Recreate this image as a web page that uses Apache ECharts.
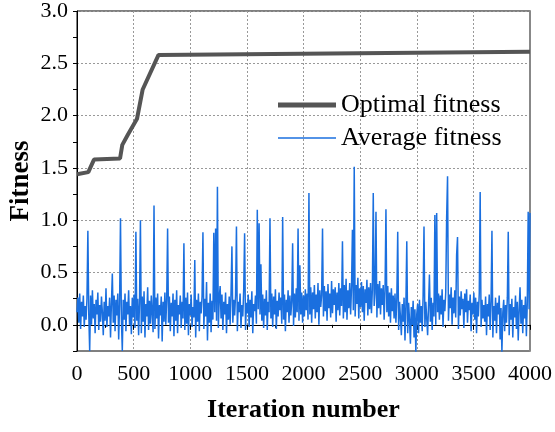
<!DOCTYPE html>
<html>
<head>
<meta charset="utf-8">
<script src="https://cdn.jsdelivr.net/npm/echarts@6/dist/echarts.min.js"></script>
<style>html,body{margin:0;padding:0;background:#fff}#main{width:555px;height:432px}</style>
</head>
<body>
<div id="main"></div>
<script>
// optimal fitness: [iteration, value] breakpoints
const optIter = [0, 100, 150, 380, 400, 450, 530, 580, 720, 4000];
const optValue = [1.44, 1.46, 1.58, 1.59, 1.72, 1.82, 1.97, 2.25, 2.58, 2.61];

// average fitness sampled every 8 iterations (read by eye, spikes placed where seen)
const avgStep = 8;
const avgValue = [
  // 0 - 392
  0.12, 0.26, 0.02, 0.30, -0.04, 0.22, 0.08, 0.28, -0.02, 0.18,
  0.05, 0.25, 0.90, 0.10, -0.25, 0.28, 0.00, 0.33, 0.06, 0.20,
  -0.08, 0.24, 0.10, 0.31, -0.05, 0.19, 0.03, 0.27, 0.12, -0.10,
  0.22, 0.04, 0.35, -0.02, 0.18, 0.08, 0.26, -0.12, 0.21, 0.49,
  0.02, 0.28, -0.06, 0.24, 0.09, 0.30, -0.14, 0.20, 1.02, 0.06,
  // 400 - 792
  -0.25, 0.24, 0.05, 0.30, -0.06, 0.22, 0.10, 0.33, 0.00, 0.18,
  -0.09, 0.26, 0.07, 0.29, -0.03, 0.89, 0.04, 0.25, -0.10, 0.21,
  1.00, -0.08, 0.27, 0.03, 0.32, -0.12, 0.20, 0.08, 0.36, -0.05,
  0.23, 0.01, 0.28, 0.10, -0.07, 1.14, -0.04, 0.26, 0.06, 0.30,
  -0.13, 0.19, 0.09, 0.27, -0.16, 0.22, 0.03, 0.31, 0.00, 0.24,
  // 800 - 1192
  0.92, 0.02, 0.27, -0.06, 0.21, 0.08, 0.30, -0.11, 0.24, 0.04,
  0.33, -0.08, 0.19, 0.10, 0.28, -0.03, 0.22, 0.06, 0.78, -0.05,
  0.26, 0.01, 0.31, -0.10, 0.20, 0.09, 0.29, -0.02, 0.17, 0.07,
  0.62, -0.12, 0.24, 0.03, 0.30, -0.06, 0.22, 0.11, 0.27, 0.885,
  -0.04, 0.25, 0.08, 0.41, -0.15, 0.21, 0.02, 0.30, -0.07, 0.23,
  // 1200 - 1592
  0.05, 0.88, 0.12, 0.92, 0.04, 1.32, -0.03, 0.26, 0.37, 0.06,
  0.29, -0.05, 0.22, 0.10, 0.31, -0.08, 0.20, 0.05, 0.27, 0.00,
  0.30, 0.75, 0.02, 0.24, 0.09, 0.28, 0.94, -0.06, 0.22, 0.12,
  0.30, -0.03, 0.19, 0.08, 0.34, 0.875, -0.05, 0.21, 0.11, 0.29,
  -0.02, 0.24, 0.07, 0.32, -0.08, 0.20, 0.13, 0.28, 0.01, 1.10,
  // 1600 - 1992
  0.15, 0.97, 0.10, 0.58, 0.04, 0.29, -0.03, 0.25, 0.09, 0.33,
  -0.05, 0.22, 0.12, 1.02, 0.06, 0.30, -0.02, 0.27, 0.10, 0.34,
  -0.04, 0.23, 0.08, 0.31, 0.14, 0.26, 0.01, 1.03, 0.05, 0.29,
  -0.06, 0.24, 0.12, 0.33, 0.02, 0.28, 0.09, 0.22, 0.78, -0.01,
  0.30, 0.07, 0.35, 0.12, 0.92, 0.04, 0.57, 0.10, 0.31, 0.02,
  // 2000 - 2392
  0.28, 0.08, 0.34, 0.14, 0.30, 0.05, 1.26, 0.10, 0.36, 0.02,
  0.31, 0.15, 0.38, 0.06, 0.29, 0.12, 0.40, 0.00, 0.33, 0.17,
  0.28, 0.92, 0.08, 0.37, 0.13, 0.32, 0.04, 0.39, 0.16, 0.30,
  0.07, 0.42, 0.11, 0.34, 0.19, 0.36, 0.03, 0.31, 0.14, 0.40,
  0.09, 0.35, 0.18, 0.80, 0.06, 0.38, 0.12, 0.44, 0.05, 0.33,
  // 2400 - 2792
  0.16, 0.40, 0.10, 0.36, 0.91, 0.14, 1.51, 0.08, 0.38, 0.20,
  0.45, 0.06, 0.35, 0.17, 0.41, 0.12, 0.37, 0.04, 0.34, 0.21,
  0.43, 0.09, 0.36, 0.15, 0.40, 0.11, 0.33, 1.26, 0.18, 0.30,
  1.08, 0.07, 0.39, 0.16, 0.42, 0.10, 0.35, 0.19, 0.38, 0.05,
  0.33, 1.105, 0.12, 0.37, 0.08, 0.31, 0.02, 0.35, 0.13, 0.28,
  // 2800 - 3192
  0.06, 0.30, 0.02, 0.25, 0.89, -0.05, 0.22, 0.08, -0.10, 0.20,
  0.03, 0.26, -0.15, 0.18, 0.80, -0.08, 0.21, 0.05, -0.18, 0.17,
  0.00, 0.23, -0.12, 0.15, -0.26, 0.10, 0.20, -0.08, 0.24, 0.02,
  0.18, -0.06, 0.27, 0.94, -0.02, 0.22, 0.06, -0.10, 0.19, 0.48,
  0.03, 0.26, -0.05, 0.21, 0.08, 1.05, 0.00, 1.07, 0.12, 0.30,
  // 3200 - 3592
  0.05, 0.28, 0.10, 0.34, -0.02, 0.24, 0.13, 0.31, 1.03, 1.42,
  0.04, 0.29, 0.16, 0.36, 0.00, 0.26, 0.11, 0.33, 0.07, 0.67,
  0.84, -0.04, 0.27, 0.09, 0.32, 0.15, 0.25, -0.03, 0.30, 0.12,
  0.34, 0.02, 0.23, 0.14, 0.29, -0.06, 0.21, 0.10, 0.31, 0.05,
  0.26, -0.08, 0.22, 0.08, 0.30, 1.27, -0.02, 0.24, 0.06, 0.19,
  // 3600 - 4000
  0.03, 0.27, -0.10, 0.20, 0.08, 0.29, -0.05, 0.22, 0.90, -0.12,
  0.18, 0.04, 0.26, -0.08, 0.21, 0.10, 0.28, -0.14, 0.16, -0.26,
  0.12, 0.24, -0.06, 0.19, 0.02, 0.26, 0.89, -0.10, 0.20, 0.05,
  0.25, -0.12, 0.17, 0.07, 0.28, -0.04, 0.22, -0.15, 0.14, 0.36,
  0.01, 0.24, -0.08, 0.19, 0.06, 0.27, -0.11, 0.21, 1.08, 0.15,
  1.07
];

const yLabels = [0, 0.5, 1, 1.5, 2, 2.5, 3];

const optData = optIter.map((x, i) => [x, optValue[i]]);
const avgData = avgValue.map((v, i) => [i * avgStep, v]);

const font = 'Liberation Serif';

let myChart = echarts.init(document.getElementById('main'));
myChart.setOption({
  animation: false,
  grid: [
    { left: 77, right: 25, top: 11, bottom: 81, outerBoundsMode: 'none', show: true, borderColor: '#000', borderWidth: 1 },
    // only carries the horizontal dotted grid lines (0 .. 3)
    { left: 77, right: 25, top: 11, height: 314, outerBoundsMode: 'none' }
  ],
  legend: {
    orient: 'vertical',
    left: 278,
    top: 92,
    padding: 0,
    itemWidth: 58,
    itemHeight: 14,
    itemGap: 7,
    textStyle: { fontFamily: font, fontSize: 26, color: '#000' },
    data: [
      { name: 'Optimal fitness', icon: 'path://M0,0H58V5H0Z' },
      { name: 'Average fitness', icon: 'path://M0,0H58V1.5H0Z' }
    ]
  },
  xAxis: [
    {
      type: 'value',
      gridIndex: 0,
      min: 0,
      max: 4000,
      interval: 500,
      name: 'Iteration number',
      nameLocation: 'middle',
      nameGap: 46,
      nameMoveOverlap: false,
      nameTextStyle: { fontFamily: font, fontSize: 26, fontWeight: 'bold', color: '#000' },
      axisLine: { lineStyle: { color: '#000', width: 1 } },
      axisTick: { length: 5, lineStyle: { color: '#000' } },
      minorTick: { show: true, splitNumber: 2, length: 3, lineStyle: { color: '#000' } },
      axisLabel: { fontFamily: font, fontSize: 22, color: '#000', margin: 12, formatter: v => String(v) },
      splitLine: { show: true, lineStyle: { color: '#999', type: [2, 2], width: 1 } }
    },
    { type: 'value', gridIndex: 1, min: 0, max: 4000, show: false }
  ],
  yAxis: [
    {
      type: 'value',
      gridIndex: 0,
      min: -0.25,
      max: 3,
      interval: 0.25,
      name: 'Fitness',
      nameLocation: 'middle',
      nameGap: 42,
      nameMoveOverlap: false,
      nameTextStyle: { fontFamily: font, fontSize: 27, fontWeight: 'bold', color: '#000' },
      axisLine: { show: true, lineStyle: { color: '#000', width: 1 } },
      axisTick: { show: true, length: 4, lineStyle: { color: '#000' } },
      axisLabel: {
        fontFamily: font, fontSize: 22, color: '#000', margin: 9,
        formatter: v => yLabels.some(t => Math.abs(t - v) < 1e-6) ? v.toFixed(1) : ''
      },
      splitLine: { show: false }
    },
    {
      type: 'value',
      gridIndex: 1,
      min: 0,
      max: 3,
      interval: 0.5,
      axisLine: { show: false },
      axisTick: { show: false },
      axisLabel: { show: false },
      splitLine: { show: true, lineStyle: { color: '#999', type: [2, 2], width: 1 } }
    },
    {
      type: 'value',
      gridIndex: 0,
      position: 'right',
      min: -0.25,
      max: 3,
      axisLine: { show: true, lineStyle: { color: '#888', width: 2 } },
      axisTick: { show: false },
      axisLabel: { show: false },
      splitLine: { show: false }
    }
  ],
  series: [
    {
      name: 'Average fitness',
      type: 'line',
      xAxisIndex: 0,
      yAxisIndex: 0,
      data: avgData,
      symbol: 'none',
      lineStyle: { color: '#1a6fdf', width: 1.5 },
      itemStyle: { color: '#1a6fdf' },
      z: 2
    },
    {
      name: 'Optimal fitness',
      type: 'line',
      xAxisIndex: 0,
      yAxisIndex: 0,
      data: optData,
      symbol: 'none',
      lineStyle: { color: '#555', width: 4 },
      itemStyle: { color: '#555' },
      z: 3
    }
  ]
});
</script>
</body>
</html>
